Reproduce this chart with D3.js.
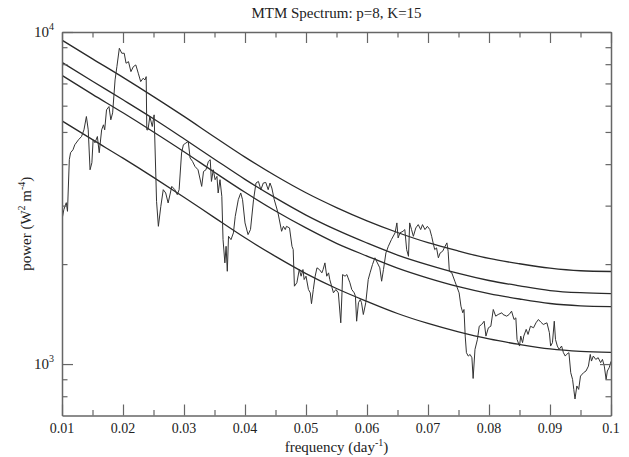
<!DOCTYPE html>
<html>
<head>
<meta charset="utf-8">
<script src="https://cdn.jsdelivr.net/npm/d3@7"></script>
<style>
  html, body { margin: 0; padding: 0; background: #fff; }
  #chart { width: 629px; height: 457px; }
  text { font-family: "Liberation Serif", "Times New Roman", serif; fill: #222; }
</style>
</head>
<body>
<div id="chart"></div>
<script>
// smooth red-noise fits, read every 0.005 day^-1
const fitFreq = [0.010, 0.015, 0.020, 0.025, 0.030, 0.035, 0.040, 0.045, 0.050, 0.055,
  0.060, 0.065, 0.070, 0.075, 0.080, 0.085, 0.090, 0.095, 0.100];
const fitMedian = [5400, 4740, 4170, 3650, 3180, 2760, 2400, 2110, 1873, 1689,
  1544, 1420, 1325, 1250, 1190, 1146, 1111, 1092, 1084];
const fit90 = [7400, 6490, 5710, 5000, 4360, 3780, 3290, 2890, 2570, 2310,
  2115, 1945, 1815, 1710, 1630, 1570, 1522, 1498, 1490];
const fit95 = [8100, 7110, 6250, 5480, 4770, 4140, 3600, 3165, 2810, 2535,
  2315, 2130, 1990, 1875, 1785, 1720, 1665, 1640, 1630];
const fit99 = [9450, 8300, 7300, 6390, 5570, 4830, 4200, 3690, 3280, 2960,
  2700, 2490, 2320, 2190, 2080, 2005, 1945, 1910, 1900];

// MTM spectrum
const specFreq = [
  0.0100, 0.0101, 0.0103, 0.0107, 0.0109, 0.0112, 0.0114, 0.0118, 0.0121, 0.0127,
  0.0132, 0.0136, 0.0140, 0.0143, 0.0146, 0.0149, 0.0151, 0.0154, 0.0158, 0.0161,
  0.0165, 0.0168, 0.0170, 0.0173, 0.0177, 0.0180, 0.0183, 0.0187, 0.0190, 0.0194,
  0.0198, 0.0202, 0.0205, 0.0209, 0.0213, 0.0217, 0.0221, 0.0225, 0.0229, 0.0233,
  0.0236, 0.0238, 0.0239, 0.0241, 0.0244, 0.0248, 0.0251, 0.0254, 0.0255, 0.0258,
  0.0262, 0.0266, 0.0270, 0.0274, 0.0280, 0.0285, 0.0289, 0.0292, 0.0296, 0.0299,
  0.0303, 0.0307, 0.0310, 0.0314, 0.0318, 0.0323, 0.0329, 0.0332, 0.0336, 0.0340,
  0.0343, 0.0345, 0.0348, 0.0351, 0.0354, 0.0356, 0.0359, 0.0362, 0.0364, 0.0367,
  0.0369, 0.0371, 0.0373, 0.0377, 0.0381, 0.0384, 0.0389, 0.0393, 0.0396, 0.0400,
  0.0405, 0.0409, 0.0414, 0.0418, 0.0422, 0.0426, 0.0430, 0.0434, 0.0438, 0.0441,
  0.0444, 0.0448, 0.0454, 0.0460, 0.0463, 0.0466, 0.0468, 0.0473, 0.0477, 0.0479,
  0.0481, 0.0485, 0.0489, 0.0492, 0.0495, 0.0497, 0.0500, 0.0504, 0.0507, 0.0509,
  0.0512, 0.0515, 0.0518, 0.0522, 0.0526, 0.0528, 0.0531, 0.0534, 0.0537, 0.0539,
  0.0542, 0.0545, 0.0549, 0.0553, 0.0557, 0.0559, 0.0560, 0.0564, 0.0567, 0.0569,
  0.0572, 0.0575, 0.0579, 0.0581, 0.0583, 0.0586, 0.0589, 0.0591, 0.0594, 0.0598,
  0.0602, 0.0605, 0.0609, 0.0613, 0.0617, 0.0621, 0.0624, 0.0627, 0.0631, 0.0635,
  0.0640, 0.0646, 0.0649, 0.0651, 0.0654, 0.0659, 0.0662, 0.0665, 0.0668, 0.0670,
  0.0673, 0.0676, 0.0680, 0.0684, 0.0688, 0.0691, 0.0695, 0.0699, 0.0703, 0.0706,
  0.0709, 0.0711, 0.0714, 0.0717, 0.0720, 0.0724, 0.0728, 0.0731, 0.0733, 0.0735,
  0.0739, 0.0744, 0.0747, 0.0751, 0.0754, 0.0757, 0.0759, 0.0761, 0.0763, 0.0766,
  0.0769, 0.0772, 0.0774, 0.0777, 0.0781, 0.0784, 0.0788, 0.0792, 0.0795, 0.0799,
  0.0803, 0.0807, 0.0811, 0.0815, 0.0821, 0.0823, 0.0829, 0.0833, 0.0837, 0.0841,
  0.0844, 0.0846, 0.0850, 0.0852, 0.0855, 0.0857, 0.0861, 0.0864, 0.0868, 0.0873,
  0.0877, 0.0881, 0.0885, 0.0889, 0.0895, 0.0899, 0.0901, 0.0904, 0.0907, 0.0909,
  0.0912, 0.0915, 0.0919, 0.0922, 0.0925, 0.0927, 0.0931, 0.0934, 0.0937, 0.0939,
  0.0941, 0.0944, 0.0947, 0.0950, 0.0955, 0.0959, 0.0963, 0.0966, 0.0968, 0.0971,
  0.0975, 0.0979, 0.0983, 0.0986, 0.0989, 0.0992, 0.0994, 0.0997, 0.1000];
const specPower = [
  2880, 2785, 2917, 3062, 2884, 4125, 4329, 4419, 4575, 4736,
  4845, 5075, 5565, 5075, 3847, 4040, 4736, 4639, 4845, 4329,
  5075, 5254, 5075, 5829, 5963, 5440, 5708, 7173, 7865, 8933,
  8630, 8630, 8052, 8142, 7598, 7865, 7958, 7515, 7089, 7257,
  7173, 7337, 5075, 5075, 5565, 5192, 5630, 3591, 3090, 2599,
  2985, 3351, 3275, 3056, 3428, 3351, 3237, 3351, 4320, 4575,
  4629, 4681, 4173, 4076, 3936, 3847, 3428, 3802, 3847, 4076,
  4125, 3548, 3847, 3591, 3674, 3275, 3591, 3199, 2370, 2017,
  2263, 1903, 2425, 2370, 2483, 2785, 3126, 3275, 3126, 2661,
  2454, 2541, 3126, 3509, 3548, 3351, 3509, 3524, 3351, 3509,
  3390, 3126, 2858, 2511, 2599, 2541, 2599, 2570, 2263, 2212,
  1716, 1757, 1926, 1839, 1926, 1797, 1839, 1677, 1639, 1520,
  1677, 1839, 1949, 1926, 1882, 1926, 2017, 1839, 1882, 1797,
  1716, 1639, 1677, 1639, 1331, 1639, 1860, 1839, 1860, 1818,
  1757, 1677, 1639, 1601, 1346, 1530, 1565, 1530, 1410, 1530,
  1797, 1882, 1994, 2089, 2017, 1949, 1776, 1926, 2161, 2263,
  2370, 2483, 2661, 2398, 2483, 2511, 2541, 2212, 2111, 2661,
  2541, 2425, 2570, 2630, 2541, 2630, 2541, 2599, 2541, 2425,
  2290, 2212, 2238, 2089, 2161, 2186, 2263, 2317, 2186, 1903,
  1882, 1776, 1716, 1639, 1494, 1427, 1460, 1214, 1082, 1057,
  1069, 1045, 905, 1107, 1186, 1300, 1316, 1346, 1214, 1286,
  1300, 1460, 1394, 1410, 1427, 1410, 1394, 1410, 1443, 1362,
  1378, 1186, 1133, 1214, 1160, 1214, 1272, 1228, 1300, 1286,
  1331, 1362, 1337, 1316, 1331, 1243, 1133, 1160, 1346, 1186,
  1133, 1107, 1133, 1082, 1057, 1069, 1082, 942, 899, 839,
  785, 859, 839, 920, 942, 953, 986, 1069, 1021, 1057,
  1033, 1045, 1010, 1033, 986, 899, 953, 975, 1019];

const xTicks = [0.01, 0.02, 0.03, 0.04, 0.05, 0.06, 0.07, 0.08, 0.09, 0.1];
const xMinorTicks = [0.015, 0.025, 0.035, 0.045, 0.055, 0.065, 0.075, 0.085, 0.095];
const yTicks = [1000, 10000];
const yMinorTicks = [800, 900, 2000, 3000, 4000, 5000, 6000, 7000, 8000, 9000];

const title = "MTM Spectrum: p=8, K=15";

class SpectrumChart {
  constructor(container) {
    this.width = 629;
    this.height = 457;
    this.padding = { t: 32, b: 41.5, s: 62, e: 18 };
    this.svg = d3.select(container).append("svg").attr("width", this.width).attr("height", this.height);

    const pw = this.width - this.padding.s - this.padding.e;
    const ph = this.height - this.padding.t - this.padding.b;
    this.xScale = d3.scaleLinear().domain([0.01, 0.1]).range([0, pw]);
    this.yScale = d3.scaleLog().domain([700, 10000]).range([ph, 0]);

    this.plot = this.svg.append("g").attr("transform", `translate(${this.padding.s},${this.padding.t})`);
    this.svg.append("defs").append("clipPath").attr("id", "clip")
      .append("rect").attr("width", pw).attr("height", ph);

    const lines = this.plot.append("g").attr("clip-path", "url(#clip)");
    const smooth = d3.line()
      .x((d) => this.xScale(d[0]))
      .y((d) => this.yScale(d[1]))
      .curve(d3.curveMonotoneX);
    [fit99, fit95, fit90, fitMedian].forEach((s) => {
      lines.append("path")
        .datum(fitFreq.map((f, i) => [f, s[i]]))
        .attr("d", smooth)
        .attr("fill", "none")
        .attr("stroke", "#2a2a2a")
        .attr("stroke-width", 1.3);
    });
    const raw = d3.line().x((d) => this.xScale(d[0])).y((d) => this.yScale(d[1]));
    lines.append("path")
      .datum(specFreq.map((f, i) => [f, specPower[i]]))
      .attr("d", raw)
      .attr("fill", "none")
      .attr("stroke", "#333")
      .attr("stroke-width", 1)
      .attr("stroke-linejoin", "round");

    // axes: ticks inside on all four sides
    const axisColor = "#666";
    const fmtNone = () => "";
    const makers = [d3.axisBottom, d3.axisTop, d3.axisLeft, d3.axisRight];
    const shifts = [`translate(0,${ph})`, "translate(0,0)", "translate(0,0)", `translate(${pw},0)`];
    makers.forEach((mk, i) => {
      const isX = i < 2;
      const scale = isX ? this.xScale : this.yScale;
      const g = this.plot.append("g").attr("transform", shifts[i]);
      g.call(mk(scale).tickValues(isX ? xTicks : yTicks).tickSizeInner(-11).tickSizeOuter(0).tickFormat(fmtNone));
      const minor = g.append("g")
        .call(mk(scale).tickValues(isX ? xMinorTicks : yMinorTicks).tickSizeInner(-5.5).tickSizeOuter(0).tickFormat(fmtNone));
      minor.select(".domain").remove();
      g.selectAll("path.domain").attr("stroke", axisColor).attr("stroke-width", 1.5);
      g.selectAll(".tick line").attr("stroke", axisColor).attr("stroke-width", 1.2);
      g.selectAll(".tick text").remove();
    });

    // x tick labels
    this.plot.append("g").selectAll("text").data(xTicks).join("text")
      .attr("x", (d) => this.xScale(d))
      .attr("y", ph + 17.5)
      .attr("text-anchor", "middle")
      .attr("font-size", 14)
      .text((d) => d3.format("")(d));

    // y tick labels as powers of ten
    const yl = this.plot.append("g").selectAll("text").data(yTicks).join("text")
      .attr("x", -8)
      .attr("y", (d) => this.yScale(d) + 4.5)
      .attr("text-anchor", "end")
      .attr("font-size", 15);
    yl.append("tspan").text("10");
    yl.append("tspan").attr("dy", -7).attr("font-size", 10).text((d) => Math.round(Math.log10(d)));

    // title and axis titles
    this.svg.append("text")
      .attr("x", this.padding.s + pw / 2)
      .attr("y", 18)
      .attr("text-anchor", "middle")
      .attr("font-size", 15)
      .text(title);

    const xt = this.svg.append("text")
      .attr("x", this.padding.s + pw / 2)
      .attr("y", 452)
      .attr("text-anchor", "middle")
      .attr("font-size", 15);
    xt.append("tspan").text("frequency (day");
    xt.append("tspan").attr("dy", -6).attr("font-size", 10).text("-1");
    xt.append("tspan").attr("dy", 6).text(")");

    const yt = this.svg.append("text")
      .attr("transform", `translate(31,${this.padding.t + ph / 2}) rotate(-90)`)
      .attr("text-anchor", "middle")
      .attr("font-size", 15);
    yt.append("tspan").text("power (W");
    yt.append("tspan").attr("dy", -6).attr("font-size", 10).text("2");
    yt.append("tspan").attr("dy", 6).text(" m");
    yt.append("tspan").attr("dy", -6).attr("font-size", 10).text("-4");
    yt.append("tspan").attr("dy", 6).text(")");
  }
}

new SpectrumChart("#chart");
</script>
</body>
</html>
